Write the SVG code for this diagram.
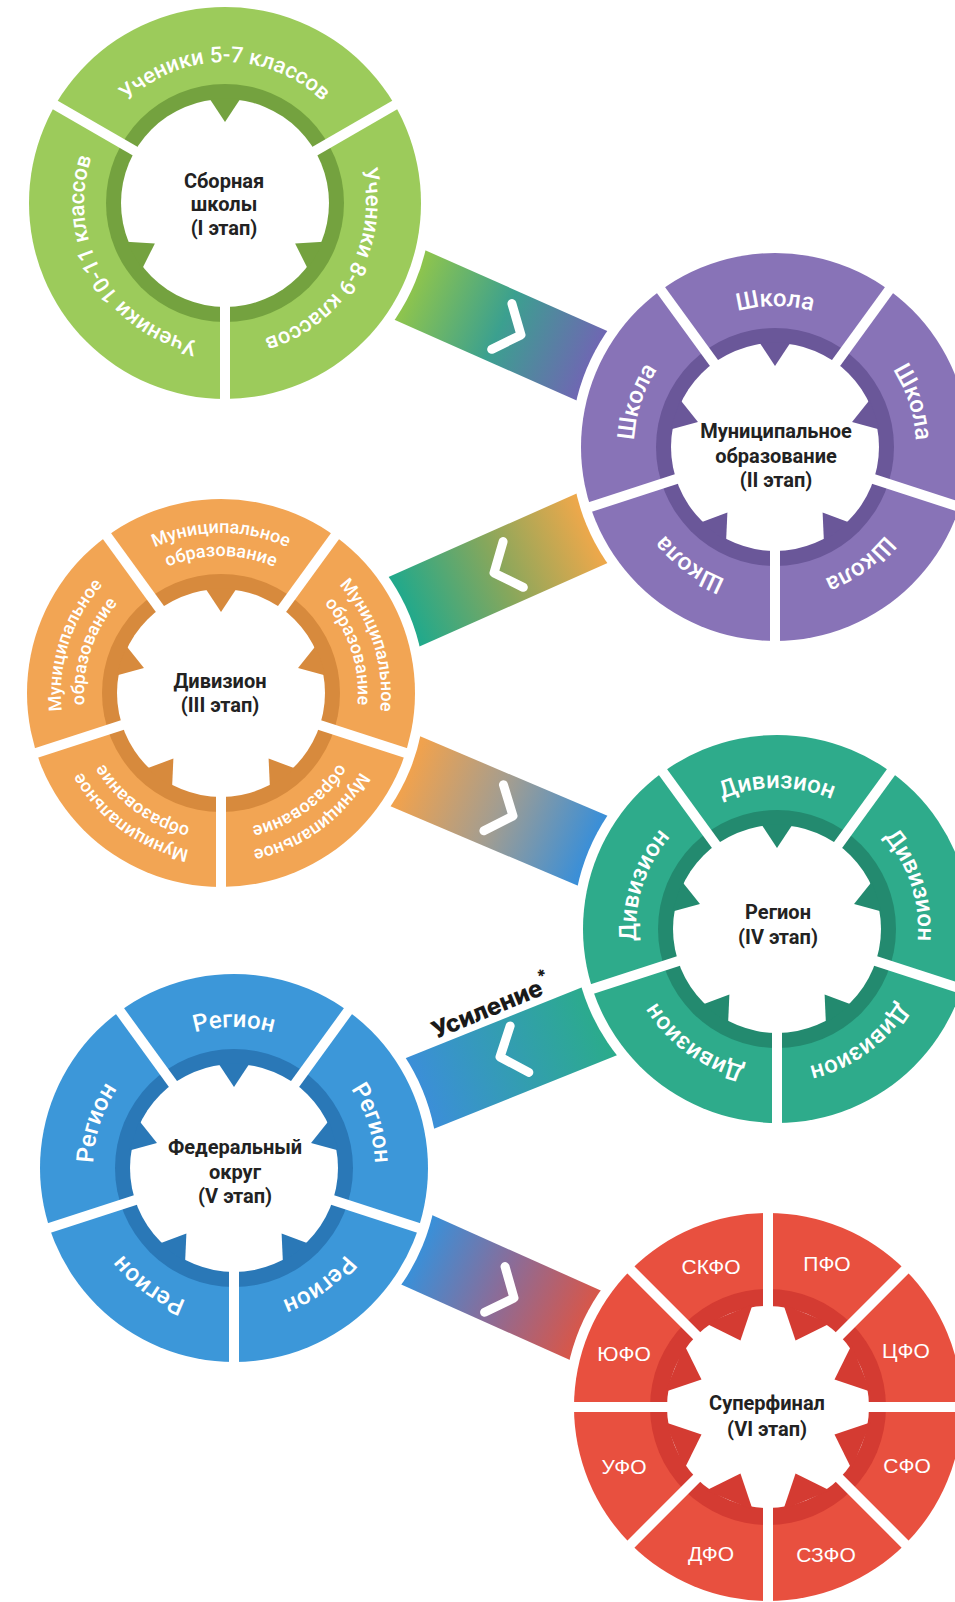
<svg xmlns="http://www.w3.org/2000/svg" width="955" height="1602" viewBox="0 0 955 1602">
<style>
.lbl{font-family:Roboto,"Liberation Sans",sans-serif;font-size:24px;font-weight:500;fill:#fff;}
.lblg{font-family:Roboto,"Liberation Sans",sans-serif;font-size:22px;font-weight:500;fill:#fff;}
.lbl2{font-family:Roboto,"Liberation Sans",sans-serif;font-size:18px;font-weight:500;fill:#fff;}
.ctr{font-family:Roboto,"Liberation Sans",sans-serif;font-size:20px;font-weight:700;fill:#222;text-anchor:middle;}
.fo{font-family:"Liberation Sans",Arial,sans-serif;font-size:21px;fill:#fff;text-anchor:middle;}
.chev{fill:none;stroke:#fff;stroke-width:9;stroke-linecap:round;stroke-linejoin:round;}
.band{stroke-width:76;fill:none;}
.halo{fill:#fff;}
.note{font-family:Inter,"Open Sans","Liberation Sans",sans-serif;font-weight:800;font-size:24px;fill:#1a1a1a;}
</style>
<defs>
<linearGradient id="g1" gradientUnits="userSpaceOnUse" x1="413" y1="287" x2="589" y2="364">
<stop offset="0" stop-color="#8dc44e"/><stop offset="0.5" stop-color="#3ba08f"/><stop offset="1" stop-color="#6e68b2"/></linearGradient>
<linearGradient id="g2" gradientUnits="userSpaceOnUse" x1="589" y1="530" x2="407" y2="610">
<stop offset="0" stop-color="#eda84b"/><stop offset="0.5" stop-color="#86a75c"/><stop offset="1" stop-color="#22a98b"/></linearGradient>
<linearGradient id="g3" gradientUnits="userSpaceOnUse" x1="409" y1="773" x2="589" y2="849">
<stop offset="0" stop-color="#f0a24e"/><stop offset="0.5" stop-color="#a19d92"/><stop offset="1" stop-color="#3b8fd7"/></linearGradient>
<linearGradient id="g4" gradientUnits="userSpaceOnUse" x1="423" y1="1092" x2="598" y2="1021">
<stop offset="0" stop-color="#3b8fd7"/><stop offset="1" stop-color="#2bab8c"/></linearGradient>
<linearGradient id="g5" gradientUnits="userSpaceOnUse" x1="420" y1="1251" x2="582" y2="1324">
<stop offset="0" stop-color="#3b8fd7"/><stop offset="0.5" stop-color="#8b6c98"/><stop offset="1" stop-color="#d6574b"/></linearGradient>
<path id="arc141" d="M -122.1,-70.5 A 141 141 0 0 1 122.1,-70.5"/>
<path id="arc160" d="M -138.6,-80 A 160 160 0 0 1 138.6,-80"/>
<path id="arc137" d="M -118.6,-68.5 A 137 137 0 0 1 118.6,-68.5"/>
<polygon id="tooth" points="-15.7,-104.8 0,-81 15.7,-104.8"/>
<polygon id="toothR" points="-25.2,-100.9 0,-72 25.2,-100.9"/>
<line id="gap" x1="0" y1="0" x2="0" y2="200" stroke="#fff" stroke-width="10"/>
<path id="chev" class="chev" d="M -21,-25 L 0,0 L -21,25"/>
</defs>
<rect width="955" height="1602" fill="#fff"/>

<g id="connectors">
<line class="band" x1="225" y1="203" x2="775" y2="447" stroke="url(#g1)"/>
<line class="band" x1="775" y1="447" x2="221" y2="693" stroke="url(#g2)"/>
<line class="band" x1="221" y1="693" x2="777" y2="929" stroke="url(#g3)"/>
<line class="band" x1="777" y1="950" x2="234" y2="1168" stroke="url(#g4)"/>
<line class="band" x1="234" y1="1168" x2="768" y2="1407" stroke="url(#g5)"/>
<use href="#chev" transform="translate(521,335) rotate(23.9)"/>
<use href="#chev" transform="translate(494,573) rotate(156.1)"/>
<use href="#chev" transform="translate(513,816) rotate(23)"/>
<use href="#chev" transform="translate(500,1057) rotate(158.1)"/>
<use href="#chev" transform="translate(514,1298) rotate(24.1)"/>
<text class="note" transform="translate(488,1009) rotate(-22.5)" x="4" y="8" text-anchor="middle">Усиление<tspan dy="-12" font-size="17">*</tspan></text>
</g>

<g id="node-1" transform="translate(225,203)">
<circle class="halo" r="206"/>
<circle r="196" fill="#9ccb5b"/>
<circle r="119" fill="#74a23f"/>
<circle r="104" fill="#fff"/>
<g fill="#74a23f"><use href="#tooth"/><use href="#tooth" transform="rotate(120)"/><use href="#tooth" transform="rotate(240)"/></g>
<use href="#gap"/><use href="#gap" transform="rotate(120)"/><use href="#gap" transform="rotate(240)"/>
<text class="lblg" text-anchor="middle"><textPath href="#arc141" startOffset="50%">Ученики 5-7 классов</textPath></text>
<g transform="rotate(120)"><text class="lblg" text-anchor="middle"><textPath href="#arc141" startOffset="50%">Ученики 8-9 классов</textPath></text></g>
<g transform="rotate(240)"><text class="lblg" text-anchor="middle"><textPath href="#arc141" startOffset="50%">Ученики 10-11 классов</textPath></text></g>
<text class="ctr" x="-1" y="-15">Сборная</text>
<text class="ctr" x="-1" y="8">школы</text>
<text class="ctr" x="-1" y="32">(I этап)</text>
</g>

<g id="node-2" transform="translate(775,447)">
<circle class="halo" r="204"/>
<circle r="194" fill="#8873b7"/>
<circle r="119" fill="#6a5799"/>
<circle r="104" fill="#fff"/>
<g fill="#6a5799"><use href="#tooth"/><use href="#tooth" transform="rotate(72)"/><use href="#tooth" transform="rotate(144)"/><use href="#tooth" transform="rotate(216)"/><use href="#tooth" transform="rotate(288)"/></g>
<use href="#gap"/><use href="#gap" transform="rotate(72)"/><use href="#gap" transform="rotate(144)"/><use href="#gap" transform="rotate(216)"/><use href="#gap" transform="rotate(288)"/>
<text class="lbl" text-anchor="middle"><textPath href="#arc141" startOffset="50%">Школа</textPath></text>
<g transform="rotate(72)"><text class="lbl" text-anchor="middle"><textPath href="#arc141" startOffset="50%">Школа</textPath></text></g>
<g transform="rotate(144)"><text class="lbl" text-anchor="middle"><textPath href="#arc141" startOffset="50%">Школа</textPath></text></g>
<g transform="rotate(216)"><text class="lbl" text-anchor="middle"><textPath href="#arc141" startOffset="50%">Школа</textPath></text></g>
<g transform="rotate(288)"><text class="lbl" text-anchor="middle"><textPath href="#arc141" startOffset="50%">Школа</textPath></text></g>
<text class="ctr" x="1" y="-9">Муниципальное</text>
<text class="ctr" x="1" y="16">образование</text>
<text class="ctr" x="1" y="40">(II этап)</text>
</g>

<g id="node-3" transform="translate(221,693)">
<circle class="halo" r="204"/>
<circle r="194" fill="#f2a554"/>
<circle r="119" fill="#d78a3d"/>
<circle r="104" fill="#fff"/>
<g fill="#d78a3d"><use href="#tooth"/><use href="#tooth" transform="rotate(72)"/><use href="#tooth" transform="rotate(144)"/><use href="#tooth" transform="rotate(216)"/><use href="#tooth" transform="rotate(288)"/></g>
<use href="#gap"/><use href="#gap" transform="rotate(72)"/><use href="#gap" transform="rotate(144)"/><use href="#gap" transform="rotate(216)"/><use href="#gap" transform="rotate(288)"/>
<text class="lbl2" text-anchor="middle"><textPath href="#arc160" startOffset="50%">Муниципальное</textPath><textPath href="#arc137" startOffset="50%">образование</textPath></text>
<g transform="rotate(72)"><text class="lbl2" text-anchor="middle"><textPath href="#arc160" startOffset="50%">Муниципальное</textPath><textPath href="#arc137" startOffset="50%">образование</textPath></text></g>
<g transform="rotate(144)"><text class="lbl2" text-anchor="middle"><textPath href="#arc160" startOffset="50%">Муниципальное</textPath><textPath href="#arc137" startOffset="50%">образование</textPath></text></g>
<g transform="rotate(216)"><text class="lbl2" text-anchor="middle"><textPath href="#arc160" startOffset="50%">Муниципальное</textPath><textPath href="#arc137" startOffset="50%">образование</textPath></text></g>
<g transform="rotate(288)"><text class="lbl2" text-anchor="middle"><textPath href="#arc160" startOffset="50%">Муниципальное</textPath><textPath href="#arc137" startOffset="50%">образование</textPath></text></g>
<text class="ctr" x="-1" y="-5">Дивизион</text>
<text class="ctr" x="-1" y="19">(III этап)</text>
</g>

<g id="node-4" transform="translate(777,929)">
<circle class="halo" r="204"/>
<circle r="194" fill="#2eab8b"/>
<circle r="119" fill="#238a6f"/>
<circle r="104" fill="#fff"/>
<g fill="#238a6f"><use href="#tooth"/><use href="#tooth" transform="rotate(72)"/><use href="#tooth" transform="rotate(144)"/><use href="#tooth" transform="rotate(216)"/><use href="#tooth" transform="rotate(288)"/></g>
<use href="#gap"/><use href="#gap" transform="rotate(72)"/><use href="#gap" transform="rotate(144)"/><use href="#gap" transform="rotate(216)"/><use href="#gap" transform="rotate(288)"/>
<text class="lbl" text-anchor="middle"><textPath href="#arc141" startOffset="50%">Дивизион</textPath></text>
<g transform="rotate(72)"><text class="lbl" text-anchor="middle"><textPath href="#arc141" startOffset="50%">Дивизион</textPath></text></g>
<g transform="rotate(144)"><text class="lbl" text-anchor="middle"><textPath href="#arc141" startOffset="50%">Дивизион</textPath></text></g>
<g transform="rotate(216)"><text class="lbl" text-anchor="middle"><textPath href="#arc141" startOffset="50%">Дивизион</textPath></text></g>
<g transform="rotate(288)"><text class="lbl" text-anchor="middle"><textPath href="#arc141" startOffset="50%">Дивизион</textPath></text></g>
<text class="ctr" x="1" y="-10">Регион</text>
<text class="ctr" x="1" y="15">(IV этап)</text>
</g>

<g id="node-5" transform="translate(234,1168)">
<circle class="halo" r="204"/>
<circle r="194" fill="#3c97d9"/>
<circle r="119" fill="#2a78b7"/>
<circle r="104" fill="#fff"/>
<g fill="#2a78b7"><use href="#tooth"/><use href="#tooth" transform="rotate(72)"/><use href="#tooth" transform="rotate(144)"/><use href="#tooth" transform="rotate(216)"/><use href="#tooth" transform="rotate(288)"/></g>
<use href="#gap"/><use href="#gap" transform="rotate(72)"/><use href="#gap" transform="rotate(144)"/><use href="#gap" transform="rotate(216)"/><use href="#gap" transform="rotate(288)"/>
<text class="lbl" text-anchor="middle"><textPath href="#arc141" startOffset="50%">Регион</textPath></text>
<g transform="rotate(72)"><text class="lbl" text-anchor="middle"><textPath href="#arc141" startOffset="50%">Регион</textPath></text></g>
<g transform="rotate(144)"><text class="lbl" text-anchor="middle"><textPath href="#arc141" startOffset="50%">Регион</textPath></text></g>
<g transform="rotate(216)"><text class="lbl" text-anchor="middle"><textPath href="#arc141" startOffset="50%">Регион</textPath></text></g>
<g transform="rotate(288)"><text class="lbl" text-anchor="middle"><textPath href="#arc141" startOffset="50%">Регион</textPath></text></g>
<text class="ctr" x="1" y="-14">Федеральный</text>
<text class="ctr" x="1" y="11">округ</text>
<text class="ctr" x="1" y="35">(V этап)</text>
</g>

<g id="node-6" transform="translate(768,1407)">
<circle class="halo" r="204"/>
<circle r="194" fill="#e8503f"/>
<circle r="118" fill="#d43b32"/>
<circle r="101" fill="#fff"/>
<g fill="#d43b32"><use href="#toothR" transform="rotate(22.5)"/><use href="#toothR" transform="rotate(67.5)"/><use href="#toothR" transform="rotate(112.5)"/><use href="#toothR" transform="rotate(157.5)"/><use href="#toothR" transform="rotate(202.5)"/><use href="#toothR" transform="rotate(247.5)"/><use href="#toothR" transform="rotate(292.5)"/><use href="#toothR" transform="rotate(337.5)"/></g>
<use href="#gap"/><use href="#gap" transform="rotate(45)"/><use href="#gap" transform="rotate(90)"/><use href="#gap" transform="rotate(135)"/><use href="#gap" transform="rotate(180)"/><use href="#gap" transform="rotate(225)"/><use href="#gap" transform="rotate(270)"/><use href="#gap" transform="rotate(315)"/>
<text class="fo" x="-57" y="-133">СКФО</text>
<text class="fo" x="59" y="-136">ПФО</text>
<text class="fo" x="138" y="-49">ЦФО</text>
<text class="fo" x="139" y="66">СФО</text>
<text class="fo" x="58" y="155">СЗФО</text>
<text class="fo" x="-57" y="154">ДФО</text>
<text class="fo" x="-144" y="67">УФО</text>
<text class="fo" x="-144" y="-46">ЮФО</text>
<text class="ctr" x="-1" y="3">Суперфинал</text>
<text class="ctr" x="-1" y="29">(VI этап)</text>
</g>
</svg>
